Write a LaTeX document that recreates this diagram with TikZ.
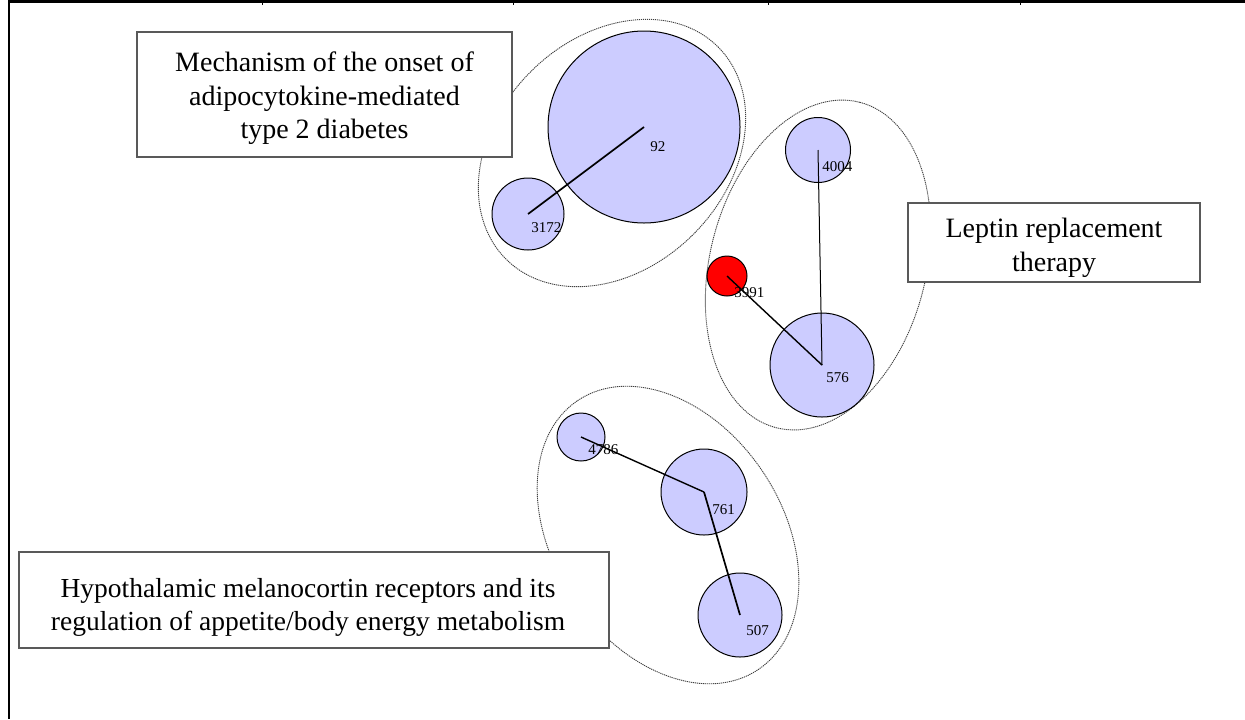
\documentclass[tikz,border=0pt]{standalone}
\usepackage{fontspec}
\setmainfont{Liberation Serif}
\definecolor{blobfill}{HTML}{CCCCFF}
\definecolor{hotfill}{HTML}{FF0000}
\begin{document}
\begin{tikzpicture}[x=0.5pt,y=-0.5pt,
  frame/.style={line width=1.2pt, draw=black},
  hull/.style={draw=black!75, line width=0.45pt, dash pattern=on 0.6pt off 0.4pt},
  blob/.style={circle, draw=black, line width=0.5pt, fill=blobfill, inner sep=0pt},
  hot/.style={blob, fill=hotfill},
  link/.style={draw=black, line width=0.7pt},
  num/.style={anchor=west, inner sep=0pt, font=\fontsize{7.5}{8}\selectfont},
  topic/.style={draw=black!65, line width=0.7pt, fill=white, inner sep=0pt},
  caption/.style={align=center, inner sep=0pt}
]
\useasboundingbox (0,0) rectangle (1245,719);

% outer frame: top rule with small ticks, left rule
\draw[frame] (9,1.5) -- (1245,1.5);
\draw[frame, line width=1pt] (9,0) -- (9,719);
\foreach \t in {262,513,768,1020}
  \draw[line width=0.5pt] (\t,0) -- (\t,4.5);

% cluster hulls
\draw[hull, shift={(612,153)}, rotate=45] (0,0) ellipse [x radius=150, y radius=115];
\draw[hull, shift={(818,265)}, rotate=75.6] (0,0) ellipse [x radius=168, y radius=108];
\draw[hull, shift={(668,535)}, rotate=123.9] (0,0) ellipse [x radius=162, y radius=114];

% documents
\node[blob, minimum size=96pt] (c92)   at (644,127) {};
\node[blob, minimum size=36pt] (c3172) at (528,214) {};
\node[hot,  minimum size=20pt] (c3991) at (727,276) {};
\node[blob, minimum size=32.5pt] (c4004) at (818,150) {};
\node[blob, minimum size=52pt] (c576)  at (822,365) {};
\node[blob, minimum size=24pt] (c4786) at (581,437) {};
\node[blob, minimum size=43pt] (c761)  at (704,492) {};
\node[blob, minimum size=42pt] (c507)  at (740,615) {};

% links between documents
\draw[link, line width=0.85pt] (c92.center) -- (c3172.center);
\draw[link] (c3991.center) -- (c576.center);
\draw[link, line width=0.5pt] (c4004.center) -- (c576.center);
\draw[link] (c4786.center) -- (c761.center);
\draw[link, line width=0.85pt] (c761.center) -- (c507.center);

% document numbers
\node[num] (l92)   at ([shift={(6,20)}]c92.center) {92};
\node[num] (l3172) at ([shift={(3,14)}]c3172.center) {3172};
\node[num] (l3991) at ([shift={(7,17)}]c3991.center) {3991};
\node[num] (l4004) at ([shift={(4,17)}]c4004.center) {4004};
\node[num] (l576)  at ([shift={(4,13)}]c576.center) {576};
\node[num] (l4786) at ([shift={(7,13)}]c4786.center) {4786};
\node[num] (l761)  at ([shift={(8,18)}]c761.center) {761};
\node[num] (l507)  at ([shift={(6,16)}]c507.center) {507};

% topic captions
\node[topic, minimum width=187.5pt, minimum height=62.5pt] (t1) at (324.5,94.5) {};
\node[caption, font=\fontsize{14}{16.8}\selectfont] (x1) at ([yshift=-2pt]t1.center)
  {Mechanism of the onset of\\adipocytokine-mediated\\type 2 diabetes};
\node[topic, minimum width=146pt, minimum height=39.5pt] (t2) at (1054,242.5) {};
\node[caption, font=\fontsize{14}{17}\selectfont] (x2) at ([yshift=-2.5pt]t2.center)
  {Leptin replacement\\therapy};
\node[topic, minimum width=295pt, minimum height=48pt] (t3) at (314,600) {};
\node[caption, font=\fontsize{13.75}{16.5}\selectfont] (x3) at ([shift={(-3pt,-3.5pt)}]t3.center)
  {Hypothalamic melanocortin receptors and its\\regulation of appetite/body energy metabolism};
\end{tikzpicture}
\end{document}
